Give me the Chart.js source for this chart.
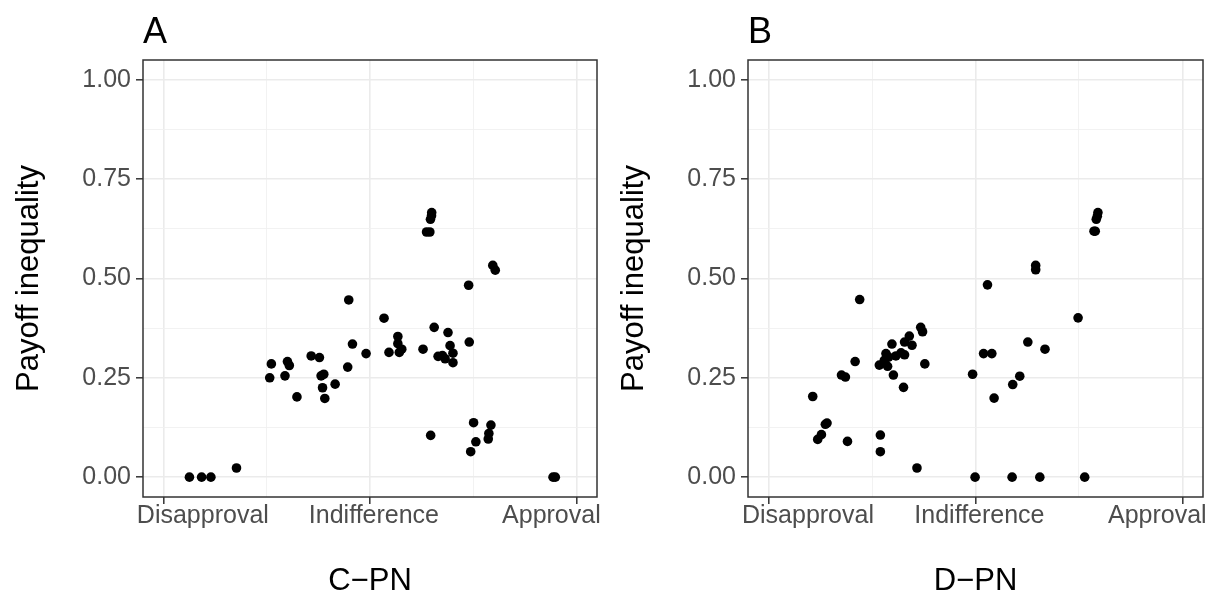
<!DOCTYPE html>
<html>
<head>
<meta charset="utf-8">
<script src="https://cdn.jsdelivr.net/npm/chart.js@4/dist/chart.umd.min.js"></script>
<style>
    html, body { margin: 0; padding: 0; background: #ffffff; }
    #wrap { position: relative; width: 1214px; height: 597px; }
    .panel { position: absolute; top: 0; height: 597px; }
    #panelA { left: 0; width: 607px; }
    #panelB { left: 605px; width: 609px; }
</style>
</head>
<body>
<div id="wrap">
    <div class="panel" id="panelA"><canvas id="chartA"></canvas></div>
    <div class="panel" id="panelB"><canvas id="chartB"></canvas></div>
</div>
<script>
// x: jittered position on the Disapproval (-1) .. Approval (1) scale
const cpnX = [-0.875, -0.816, -0.771, -0.647, -0.486, -0.478, -0.412, -0.400, -0.391, -0.354,
    -0.285, -0.245, -0.237, -0.224, -0.230, -0.219, -0.169, -0.108, -0.103, -0.085,
    -0.019, 0.068, 0.092, 0.135, 0.135, 0.142, 0.154, 0.257, 0.274, 0.290,
    0.293, 0.298, 0.299, 0.294, 0.311, 0.330, 0.351, 0.364, 0.378, 0.388,
    0.402, 0.402, 0.478, 0.481, 0.488, 0.502, 0.513, 0.573, 0.576, 0.586,
    0.595, 0.607, 0.887, 0.898];
const cpnY = [0, 0, 0, 0.023, 0.250, 0.285, 0.255, 0.291, 0.281, 0.202,
    0.305, 0.301, 0.255, 0.259, 0.225, 0.198, 0.234, 0.277, 0.446, 0.335,
    0.311, 0.400, 0.314, 0.354, 0.336, 0.314, 0.322, 0.322, 0.617, 0.617,
    0.649, 0.658, 0.666, 0.105, 0.377, 0.304, 0.306, 0.298, 0.364, 0.331,
    0.312, 0.288, 0.483, 0.340, 0.064, 0.137, 0.089, 0.096, 0.110, 0.131,
    0.533, 0.521, 0, 0];

const dpnX = [-0.787, -0.763, -0.745, -0.726, -0.718, -0.648, -0.629, -0.619, -0.582, -0.560,
    -0.460, -0.460, -0.465, -0.441, -0.433, -0.425, -0.420, -0.404, -0.397, -0.385,
    -0.360, -0.348, -0.343, -0.343, -0.320, -0.307, -0.283, -0.265, -0.256, -0.245,
    -0.014, -0.002, 0.039, 0.058, 0.079, 0.090, 0.177, 0.180, 0.214, 0.253,
    0.291, 0.291, 0.311, 0.336, 0.496, 0.528, 0.573, 0.579, 0.584, 0.589,
    0.592];
const dpnY = [0.203, 0.095, 0.107, 0.133, 0.136, 0.257, 0.252, 0.090, 0.291, 0.447,
    0.106, 0.064, 0.282, 0.294, 0.311, 0.279, 0.302, 0.335, 0.257, 0.305,
    0.313, 0.226, 0.308, 0.340, 0.355, 0.332, 0.023, 0.377, 0.366, 0.285,
    0.259, 0, 0.311, 0.484, 0.311, 0.199, 0, 0.233, 0.254, 0.340,
    0.533, 0.522, 0, 0.322, 0.401, 0, 0.619, 0.619, 0.649, 0.657,
    0.666];

const xCategories = ['Disapproval', 'Indifference', 'Approval'];
const xCategoryValues = [-1, 0, 1];
const xGridTicks = [-1, -0.5, 0, 0.5, 1];
const yTicks = [0, 0.125, 0.25, 0.375, 0.5, 0.625, 0.75, 0.875, 1];
const yMajor = [0, 0.25, 0.5, 0.75, 1];

// the category labels sit slightly off their tick (outer ones pulled inward)
const xLabelShift = [0.19, 0.019, -0.121];

const FONT = '"Liberation Sans", Arial, sans-serif';

function near(a, b) {
    return Math.abs(a - b) < 1e-6;
}

function isMajorX(v) {
    return xCategoryValues.some(m => near(m, v));
}

function isGridX(v) {
    return xGridTicks.some(m => near(m, v));
}

function isMajorY(v) {
    return yMajor.some(m => near(m, v));
}

function xLabelFor(v) {
    const i = xCategoryValues.findIndex((c, k) => near(c + xLabelShift[k], v));
    return i >= 0 ? xCategories[i] : '';
}

const HIDDEN = 'rgba(0,0,0,0)';

// panel frame and the panel letter
const panelFrame = {
    id: 'panelFrame',
    afterDatasetsDraw(chart, args, opts) {
        const { ctx, chartArea } = chart;
        ctx.save();
        ctx.strokeStyle = '#333333';
        ctx.lineWidth = 1.5;
        ctx.strokeRect(chartArea.left, chartArea.top,
            chartArea.right - chartArea.left, chartArea.bottom - chartArea.top);
        ctx.fillStyle = '#000000';
        ctx.font = '36px ' + FONT;
        ctx.textBaseline = 'alphabetic';
        ctx.textAlign = 'left';
        ctx.fillText(opts.letter, chartArea.left, 43);
        ctx.restore();
    },
};

function makePanel(canvasId, letter, xTitle, xs, ys, padRight) {
    const points = xs.map((x, i) => ({ x: x, y: ys[i] }));

    return new Chart(document.getElementById(canvasId), {
        type: 'scatter',
        data: {
            datasets: [
                {
                    data: points,
                    backgroundColor: '#000000',
                    borderWidth: 0,
                    pointRadius: 4.8,
                    pointHoverRadius: 4.8,
                },
            ],
        },
        options: {
            responsive: true,
            maintainAspectRatio: false,
            animation: false,
            events: [],
            layout: { padding: { top: 60, right: padRight, bottom: 0, left: 0 } },
            plugins: {
                legend: { display: false },
                tooltip: { enabled: false },
                panelFrame: { letter: letter },
            },
            scales: {
                x: {
                    type: 'linear',
                    min: -1.1,
                    max: 1.1,
                    border: { display: false },
                    grid: {
                        color: ctx => !isGridX(ctx.tick.value) ? HIDDEN
                            : isMajorX(ctx.tick.value) ? '#ebebeb' : '#f1f1f1',
                        lineWidth: ctx => isMajorX(ctx.tick.value) ? 1.6 : 0.9,
                        tickColor: ctx => isMajorX(ctx.tick.value) ? '#333333' : HIDDEN,
                        tickWidth: 1.5,
                        tickLength: 7,
                    },
                    afterBuildTicks: scale => {
                        const labelTicks = xCategoryValues.map((v, i) => v + xLabelShift[i]);
                        scale.ticks = xGridTicks.concat(labelTicks)
                            .sort((a, b) => a - b)
                            .map(v => ({ value: v }));
                    },
                    afterFit: scale => {
                        scale.height = 100;
                        scale.paddingLeft = 0;
                        scale.paddingRight = 0;
                    },
                    ticks: {
                        autoSkip: false,
                        maxRotation: 0,
                        padding: 0,
                        color: '#4d4d4d',
                        font: { family: FONT, size: 25, lineHeight: 1 },
                        callback: value => xLabelFor(value),
                    },
                    title: {
                        display: true,
                        text: xTitle,
                        color: '#000000',
                        font: { family: FONT, size: 31, lineHeight: 1 },
                        padding: { top: 0, bottom: 0 },
                    },
                },
                y: {
                    type: 'linear',
                    min: -0.05,
                    max: 1.05,
                    border: { display: false },
                    grid: {
                        color: ctx => isMajorY(ctx.tick.value) ? '#ebebeb' : '#f1f1f1',
                        lineWidth: ctx => isMajorY(ctx.tick.value) ? 1.6 : 0.9,
                        tickColor: ctx => isMajorY(ctx.tick.value) ? '#333333' : HIDDEN,
                        tickWidth: 1.5,
                        tickLength: 7,
                    },
                    afterBuildTicks: scale => {
                        scale.ticks = yTicks.map(v => ({ value: v }));
                    },
                    afterFit: scale => {
                        scale.width = 143;
                        scale.paddingTop = 0;
                        scale.paddingBottom = 0;
                    },
                    ticks: {
                        autoSkip: false,
                        padding: 5,
                        color: '#4d4d4d',
                        font: { family: FONT, size: 25, lineHeight: 1 },
                        callback: value => isMajorY(value) ? value.toFixed(2) : '',
                    },
                    title: {
                        display: true,
                        text: 'Payoff inequality',
                        color: '#000000',
                        font: { family: FONT, size: 31, lineHeight: 1 },
                        padding: { top: 14, bottom: 0 },
                    },
                },
            },
        },
        plugins: [panelFrame],
    });
}

makePanel('chartA', 'A', 'C\u2212PN', cpnX, cpnY, 10);
makePanel('chartB', 'B', 'D\u2212PN', dpnX, dpnY, 11);
</script>
</body>
</html>
